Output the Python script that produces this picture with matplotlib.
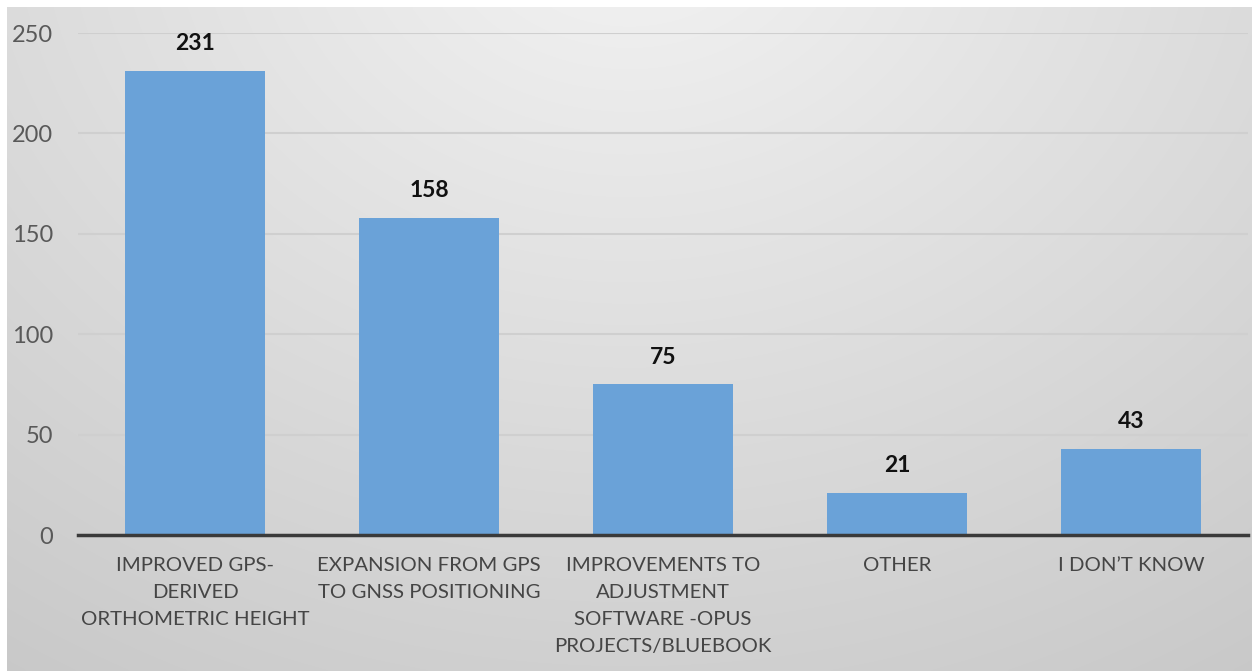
import numpy as np
import matplotlib
matplotlib.use("Agg")
import matplotlib.pyplot as plt

categories = ["IMPROVED GPS-\nDERIVED\nORTHOMETRIC HEIGHT",
              "EXPANSION FROM GPS\nTO GNSS POSITIONING",
              "IMPROVEMENTS TO\nADJUSTMENT\nSOFTWARE -OPUS\nPROJECTS/BLUEBOOK",
              "OTHER",
              "I DON\u2019T KNOW"]
values = [231, 158, 75, 21, 43]
yticks = [0, 50, 100, 150, 200, 250]

W, H = 1252, 671
fig = plt.figure(figsize=(W / 100, H / 100), dpi=100)
fig.patch.set_facecolor("white")

# background gradient panel
bg = fig.add_axes([7 / W, 0, 1 - 7 / W, 1 - 7 / H], zorder=0)
yy, xx = np.mgrid[0:1:300j, 0:1:600j]
r = np.sqrt(((xx - 0.5) / 0.75) ** 2 + ((yy + 0.15) / 1.15) ** 2)
val = 0.955 - 0.14 * np.clip(r, 0, 1.3)
img = np.dstack([val, val, val])
bg.imshow(img, aspect="auto", extent=[0, 1, 1, 0], interpolation="bilinear")
bg.set_axis_off()

ax = fig.add_axes([78 / W, 1 - 535 / H, (1248 - 78) / W, (535 - 33) / H], zorder=1)
ax.patch.set_alpha(0)
x = np.arange(len(categories))
bars = ax.bar(x, values, width=0.6, color="#6aa2d8", zorder=2)
ax.set_xlim(-0.5, len(categories) - 0.5)
ax.set_ylim(0, 250)
ax.set_yticks(yticks)
ax.set_xticks(x)

font = "Lato"
ax.set_yticklabels([str(t) for t in yticks], fontsize=17, color="#595959", family=font)
ax.set_xticklabels(categories, fontsize=14.7, color="#454545", family=font,
                   linespacing=1.72, va="top")
ax.tick_params(axis="both", length=0)
ax.tick_params(axis="y", pad=18)
ax.tick_params(axis="x", pad=15.5)
for lab in ax.get_yticklabels():
    lab.set_horizontalalignment("right")

ax.grid(axis="y", color="#cfcfcf", linewidth=1.5, zorder=0)
for s in ["top", "right", "left"]:
    ax.spines[s].set_visible(False)
ax.spines["bottom"].set_color("#3a3a3a")
ax.spines["bottom"].set_linewidth(2.5)
ax.spines["bottom"].set_zorder(3)

for xi, v in zip(x, values):
    ax.annotate(str(v), (xi, v), xytext=(0, 12), textcoords="offset points",
                ha="center", va="bottom", fontsize=16.5, fontweight="bold",
                color="#111111", family=font)

fig.savefig("out.png", dpi=100)
